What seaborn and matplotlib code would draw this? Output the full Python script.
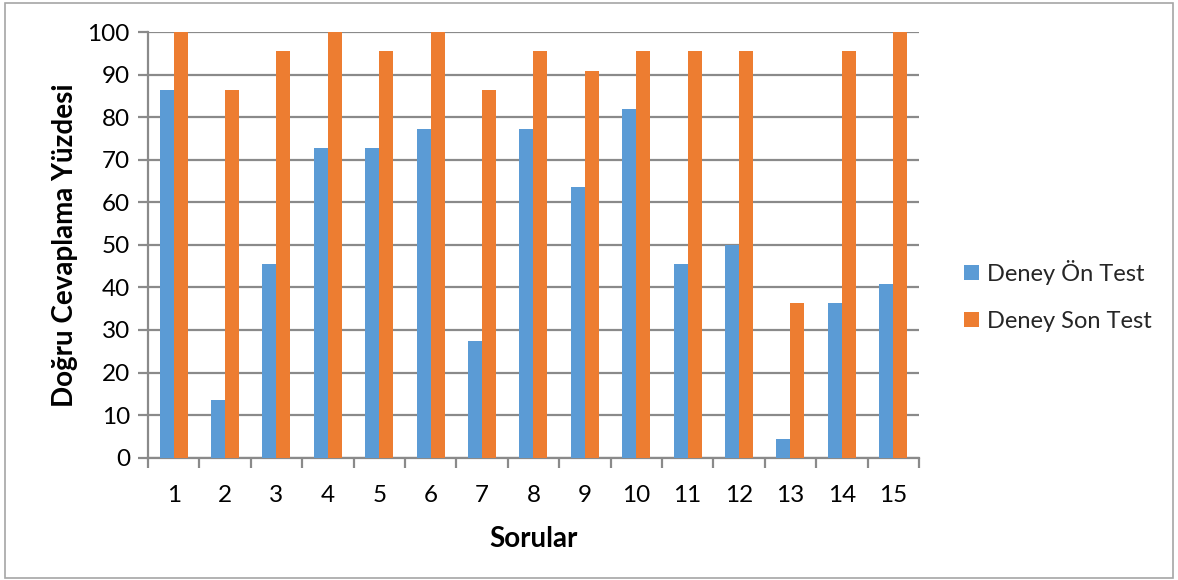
import matplotlib
matplotlib.use("Agg")
import matplotlib.pyplot as plt
import matplotlib.patches as mpatches
import pandas as pd
import seaborn as sns

# Percentage of correct answers per question
questions = [str(i) for i in range(1, 16)]
pre_test = [86.4, 13.6, 45.5, 72.7, 72.7, 77.3, 27.3, 77.3, 63.6, 81.8, 45.5, 50.0, 4.5, 36.4, 40.9]
post_test = [100.0, 86.4, 95.5, 100.0, 95.5, 100.0, 86.4, 95.5, 90.9, 95.5, 95.5, 95.5, 36.4, 95.5, 100.0]
series_names = ["Deney Ön Test", "Deney Son Test"]
colors = ["#5B9BD5", "#ED7D31"]

df = pd.DataFrame({
    "Soru": questions * 2,
    "Yüzde": pre_test + post_test,
    "Seri": [series_names[0]] * len(questions) + [series_names[1]] * len(questions),
})

sns.set_theme(style="white")
plt.rcParams["font.family"] = ["Lato", "DejaVu Sans"]

fig = plt.figure(figsize=(11.78, 5.80), dpi=100)
ax = fig.add_axes([0.1256, 0.2109, 0.6545, 0.7339])

grid_color = "#8a8a8a"
sns.barplot(data=df, x="Soru", y="Yüzde", hue="Seri", order=questions,
            hue_order=series_names, palette=colors, width=0.545,
            saturation=1, linewidth=0, edgecolor="none", ax=ax, legend=False, zorder=3)

ax.set_ylim(0, 100)
ax.set_xlim(-0.5, len(questions) - 0.5)
ax.set_yticks(range(0, 101, 10))
ax.yaxis.grid(True, color=grid_color, linewidth=1.6, zorder=0)
ax.set_axisbelow(True)

for side in ["top", "right"]:
    ax.spines[side].set_visible(False)
for side in ["left", "bottom"]:
    ax.spines[side].set_color(grid_color)
    ax.spines[side].set_linewidth(1.6)

# Category boundary ticks below the axis, labels centred in each category
ax.set_xticks([i - 0.5 for i in range(len(questions) + 1)], minor=True)
ax.tick_params(axis="x", which="minor", length=7, width=1.6, color=grid_color, direction="out", bottom=True)
ax.tick_params(axis="x", which="major", length=0, pad=20, labelsize=17.5, labelcolor="black")
ax.tick_params(axis="y", which="major", length=7, width=1.6, color=grid_color, direction="out",
               left=True, pad=6, labelsize=17.5, labelcolor="black")

ax.set_xlabel("Sorular", fontsize=20, fontweight="bold", labelpad=14, color="black")
ax.set_ylabel("Doğru Cevaplama Yüzdesi", fontsize=20, fontweight="bold", labelpad=7, color="black")

handles = [mpatches.Patch(facecolor=c, edgecolor="none", label=n) for c, n in zip(colors, series_names)]
fig.legend(handles=handles, loc="center left", bbox_to_anchor=(0.8, 0.49), frameon=False,
           fontsize=17, handlelength=0.65, handleheight=0.65, handletextpad=0.35, labelspacing=1.1)

# Chart frame
fig.patches.append(mpatches.Rectangle((0.004, 0.004), 0.992, 0.99, transform=fig.transFigure,
                                      fill=False, edgecolor="#a6a6a6", linewidth=1.2))

fig.savefig("out.png", dpi=100)
